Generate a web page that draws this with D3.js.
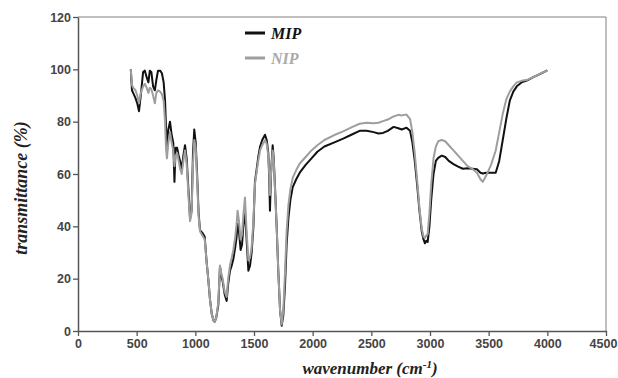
<html>

<head>
    <script src="https://d3js.org/d3.v7.min.js"></script>
    <style>
        body { margin: 0; background: #fff; }
    </style>
</head>

<body>
    <div id="vis"></div>
</body>

<script>

    // wavenumber grid (cm-1) shared by both spectra
    var wavenumbers = [450, 460, 470, 490, 505, 520, 535, 555, 570, 585, 600, 612, 625, 640, 655, 668, 682, 700, 715, 730,
        742, 750, 758, 770, 784, 798, 812, 822, 832, 845, 858, 870, 884, 898, 912, 926, 940, 955, 968, 980,
        991, 1003, 1015, 1028, 1040, 1060, 1080, 1095, 1110, 1125, 1140, 1155, 1165, 1178, 1196, 1210, 1222, 1233, 1250, 1267,
        1280, 1295, 1310, 1324, 1340, 1352, 1360, 1372, 1386, 1398, 1409, 1423, 1437, 1452, 1466, 1480, 1495, 1508, 1523, 1538,
        1552, 1570, 1594, 1608, 1622, 1630, 1636, 1645, 1659, 1668, 1679, 1693, 1707, 1722, 1736, 1750, 1764, 1778, 1793, 1810,
        1830, 1860, 1890, 1940, 1990, 2040, 2100, 2180, 2260, 2330, 2400, 2460, 2520, 2560, 2600, 2640, 2690, 2730, 2760, 2800,
        2830, 2850, 2870, 2890, 2910, 2930, 2945, 2957, 2968, 2980, 2995, 3010, 3030, 3050, 3070, 3100, 3130, 3160, 3200, 3240,
        3280, 3320, 3360, 3400, 3430, 3450, 3480, 3520, 3560, 3590, 3620, 3650, 3680, 3710, 3740, 3780, 3830, 3880, 3940, 4000];

    // transmittance (%) of the imprinted polymer
    var mipValues = [100, 92, 91, 89, 87, 84, 90, 99, 99.5, 97, 95, 99.5, 99, 93.5, 92, 96, 99.5, 99.5, 98.5, 95,
        88, 78, 71, 77, 80, 75, 72, 57, 70, 70, 67, 65, 62, 67, 71, 66, 55, 43, 46, 68,
        77, 72, 60, 45, 38.5, 37.5, 36, 27, 20, 12, 6.5, 4, 3.5, 5, 10, 24.5, 21, 19, 14, 11.5,
        18, 23, 25, 27.5, 32, 36, 41, 38, 31, 33, 40, 46, 35, 23, 25, 30, 40, 57, 62, 67,
        70.5, 73, 75, 73, 68, 58, 46, 60, 71, 66, 55, 40, 23, 8, 2, 6, 17, 33, 43, 50,
        55, 58, 60.5, 63.5, 66, 68.5, 70.5, 72, 73.5, 75, 76.5, 76.5, 76, 75.5, 75.7, 76.5, 78, 77.5, 77, 77.7,
        76.5, 72, 65, 56, 46, 38, 35, 33.5, 34.5, 34, 40, 50, 60, 65, 66.2, 67, 66.5, 65, 63.8, 62.8,
        62, 62.2, 62, 61.8, 60.5, 60.2, 60.5, 60.5, 60.5, 65, 73, 81, 88, 91.5, 93.5, 95, 95.8, 97, 98.3, 99.6];

    // transmittance (%) of the non-imprinted polymer
    var nipValues = [100, 94, 93, 92, 90, 87, 91, 93.5, 94.5, 93, 91, 93, 92.5, 90, 87, 91, 92, 91.5, 90.5, 88,
        80, 70, 66, 72, 76, 72, 69, 63, 67, 68, 65, 62, 60, 65, 69, 64, 53, 42, 45, 64,
        73, 70, 58, 44, 38, 36.5, 35, 27, 20, 12, 6.5, 4, 3.5, 5, 11, 25, 22, 20, 15, 13,
        20, 25, 28, 31, 36, 41, 46, 42, 35, 37, 44, 51, 38, 27, 28, 32, 42, 56, 61, 65.5,
        69, 71, 73, 71.5, 67, 60, 52, 60, 69, 65, 54, 40, 23, 8, 2.5, 8, 22, 38, 48, 54,
        58.5, 61.5, 64, 66.5, 69, 71, 73, 74.8, 76.3, 77.8, 79.2, 79.6, 79.4, 79.6, 80.2, 80.8, 82, 82.6, 82.4, 82.7,
        81, 76, 68, 58, 47, 39, 36, 35.5, 36.5, 37, 45, 56, 66, 70.5, 72.5, 73, 72.5, 71, 69, 67,
        65, 63, 62, 60.5, 58, 57, 59.5, 63.5, 69, 76, 83, 88.5, 91.5, 93.5, 95, 95.6, 96, 97, 98.4, 99.5];

    var seriesNames = ["MIP", "NIP"];
    var xTicks = [0, 500, 1000, 1500, 2000, 2500, 3000, 3500, 4000, 4500];
    var yTicks = [0, 20, 40, 60, 80, 100, 120];

    //Setting up the graph area
    var margin = { top: 17, right: 12, bottom: 47, left: 78 },
        width = 618 - margin.left - margin.right,
        height = 378 - margin.top - margin.bottom;

    var svg = d3.select("#vis")
        .append("svg")
        .attr("width", width + margin.left + margin.right)
        .attr("height", height + margin.top + margin.bottom)
        .append("g")
        .attr("transform", "translate(" + margin.left + "," + margin.top + ")");

    var x = d3.scaleLinear()
        .domain([0, 4500])
        .range([0, width]);

    var y = d3.scaleLinear()
        .domain([0, 120])
        .range([height, 0]);

    // frame on top and right
    svg.append("path")
        .attr("d", "M0,0H" + width + "V" + height)
        .attr("fill", "none")
        .attr("stroke", "#808080")
        .attr("stroke-width", 1);

    //The X Axis
    var xAxis = svg.append("g")
        .attr("transform", "translate(0," + height + ")")
        .call(d3.axisBottom(x).tickValues(xTicks).tickFormat(d3.format("d"))
            .tickSize(5).tickPadding(3).tickSizeOuter(0));

    //The Y axis
    var yAxis = svg.append("g")
        .call(d3.axisLeft(y).tickValues(yTicks).tickFormat(d3.format("d"))
            .tickSize(5).tickPadding(2).tickSizeOuter(0));

    [xAxis, yAxis].forEach(function (ax) {
        ax.select(".domain").attr("stroke", "#555").attr("stroke-width", 1.5);
        ax.selectAll(".tick line").attr("stroke", "#555").attr("stroke-width", 1.3);
        ax.selectAll(".tick text")
            .style("font-family", "Arial, 'Liberation Sans', sans-serif")
            .style("font-weight", "bold")
            .style("font-size", "12.5px")
            .attr("fill", "#444");
    });
    // keep the last label inside the window
    xAxis.selectAll(".tick text").filter(function (d) { return d == 4500; }).attr("dx", -3);

    // axis titles
    var xTitle = svg.append("text")
        .attr("text-anchor", "middle")
        .attr("x", 370 - margin.left)
        .attr("y", height + 43)
        .style("font-family", "'Liberation Serif', 'Times New Roman', serif")
        .style("font-weight", "bold")
        .style("font-style", "italic")
        .style("font-size", "17px")
        .attr("fill", "#222");
    xTitle.append("tspan").text("wavenumber (cm");
    xTitle.append("tspan").attr("dy", -6).style("font-size", "11px").text("-1");
    xTitle.append("tspan").attr("dy", 6).text(")");

    svg.append("text")
        .attr("text-anchor", "middle")
        .attr("transform", "rotate(-90)")
        .attr("x", -(188 - margin.top))
        .attr("y", 27 - margin.left)
        .style("font-family", "'Liberation Serif', 'Times New Roman', serif")
        .style("font-weight", "bold")
        .style("font-style", "italic")
        .style("font-size", "18px")
        .attr("fill", "#222")
        .text("transmittance (%)");

    // the two spectra
    var colors = d3.scaleOrdinal()
        .domain(seriesNames)
        .range(["#111111", "#9e9e9e"]);

    var series = [
        { name: "MIP", values: mipValues },
        { name: "NIP", values: nipValues }
    ];

    var line = d3.line()
        .x(function (d) { return x(d[0]); })
        .y(function (d) { return y(d[1]); });

    series.forEach(function (s) {
        svg.append("path")
            .datum(wavenumbers.map(function (w, i) { return [w, s.values[i]]; }))
            .attr("fill", "none")
            .attr("stroke", colors(s.name))
            .attr("stroke-width", 2)
            .attr("stroke-linejoin", "round")
            .attr("d", line);
    });

    //Legend
    var legend = svg.append("g")
        .attr("transform", "translate(" + (245 - margin.left) + "," + (33 - margin.top) + ")");

    seriesNames.forEach(function (name, i) {
        var g = legend.append("g").attr("transform", "translate(0," + (i * 25) + ")");
        g.append("line")
            .attr("x1", 0)
            .attr("x2", 20)
            .attr("stroke", colors(name))
            .attr("stroke-width", 3);
        g.append("text")
            .attr("x", 26)
            .attr("y", 6)
            .style("font-family", "'Liberation Serif', 'Times New Roman', serif")
            .style("font-weight", "bold")
            .style("font-style", "italic")
            .style("font-size", "16px")
            .attr("fill", name == "MIP" ? "#111" : "#aaa")
            .text(name);
    });

</script>

</html>
